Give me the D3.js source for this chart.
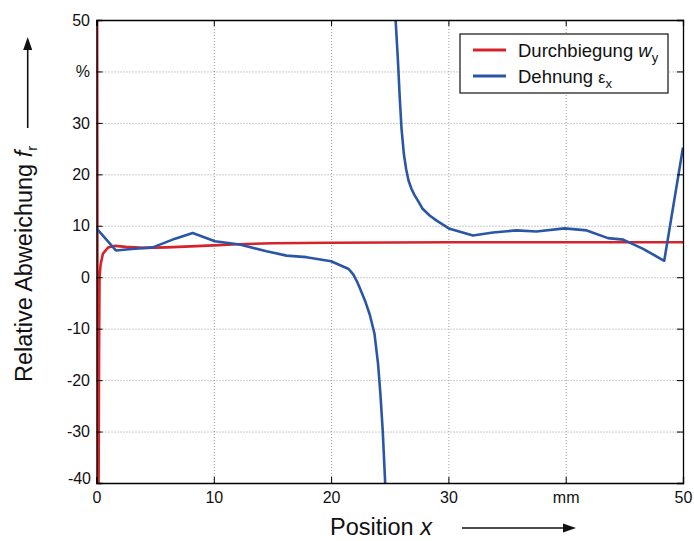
<!DOCTYPE html>
<html>
<head>
<meta charset="utf-8">
<script src="https://cdn.jsdelivr.net/npm/d3@7"></script>
<style>
  body { margin: 0; background: #fff; }
  svg { font-family: "Liberation Sans", Arial, Helvetica, sans-serif; }
  .grid line { stroke: #9a9a9a; stroke-dasharray: 1,2; }
  .grid path { display: none; }
</style>
</head>
<body>
<svg width="694" height="541"></svg>
<script>
WIDTH = 694;
HEIGHT = 541;

const xTicks = [0, 10, 20, 30, 40, 50];
const xTickLabels = ['0', '10', '20', '30', 'mm', '50'];
const yTicks = [-40, -30, -20, -10, 0, 10, 20, 30, 40, 50];
const yTickLabels = ['-40', '-30', '-20', '-10', '0', '10', '20', '30', '%', '50'];

// Durchbiegung w_y
const durchbiegung = [
  [0.04, 80], [0.12, -80], [0.18, -40], [0.21, -20], [0.23, -10], [0.26, 0],
  [0.35, 2.5], [0.55, 4.6], [1.0, 5.8], [1.6, 6.1], [2.5, 5.9], [4, 5.7],
  [6, 5.8], [8, 6.0], [10, 6.2], [12, 6.4], [15, 6.6], [20, 6.7],
  [25, 6.75], [30, 6.8], [40, 6.8], [50, 6.8],
];

// Dehnung eps_x, two branches on either side of the pole
const dehnungLeft = [
  [0, 9.5], [1.65, 5.2], [3, 5.5], [4.8, 5.8], [6.7, 7.5], [8.2, 8.6],
  [10.1, 7.0], [12.2, 6.35], [14.5, 5.05], [16.2, 4.2], [17.9, 3.9],
  [20, 3.1], [21.5, 1.6], [21.9, 0.5], [22.2, -0.8], [22.5, -2.4],
  [22.9, -4.6], [23.3, -7.3], [23.7, -11], [24.0, -16.8], [24.2, -22.6],
  [24.4, -29.8], [24.6, -39.5], [24.65, -45],
];
const dehnungRight = [
  [25.45, 55], [25.5, 50], [25.7, 42], [25.85, 35], [26.0, 29],
  [26.2, 24], [26.4, 21], [26.6, 18.8], [26.85, 17.2], [27.1, 16.0],
  [27.5, 14.5], [27.8, 13.3], [28.4, 12.0], [29.0, 11.0], [30.1, 9.4],
  [32.1, 8.1], [33.8, 8.7], [35.8, 9.1], [37.5, 8.9], [39.9, 9.5],
  [41.8, 9.1], [43.6, 7.6], [44.9, 7.3], [46.6, 5.5], [48.4, 3.2],
  [50, 25.2],
];

const RED = '#d4242b';
const BLUE = '#2b56a6';

function drawChart() {
  const margin = { top: 20, right: 11, bottom: 58, left: 96.5 };
  const width = WIDTH - margin.left - margin.right;
  const height = HEIGHT - margin.top - margin.bottom;

  const x = d3.scaleLinear().domain([0, 50]).range([0, width]);
  const y = d3.scaleLinear().domain([-40, 50]).range([height, 0]);

  const svg = d3.select('svg');
  const g = svg.append('g')
    .attr('transform', `translate(${margin.left}, ${margin.top})`);

  // grid
  g.append('g')
    .attr('class', 'grid')
    .attr('transform', `translate(0, ${height})`)
    .call(d3.axisBottom(x).tickValues(xTicks.slice(1, -1)).tickSize(-height).tickFormat(''));
  g.append('g')
    .attr('class', 'grid')
    .call(d3.axisLeft(y).tickValues(yTicks.slice(1, -1)).tickSize(-width).tickFormat(''));

  g.append('defs').append('clipPath')
    .attr('id', 'plot-clip')
    .append('rect')
    .attr('width', width)
    .attr('height', height);

  const line = d3.line()
    .x((d) => x(d[0]))
    .y((d) => y(d[1]));

  const lines = g.append('g').attr('clip-path', 'url(#plot-clip)');
  lines.append('path')
    .datum(durchbiegung)
    .attr('fill', 'none')
    .attr('stroke', RED)
    .attr('stroke-width', 2.6)
    .attr('d', line);
  [dehnungLeft, dehnungRight].forEach((branch) => {
    lines.append('path')
      .datum(branch)
      .attr('fill', 'none')
      .attr('stroke', BLUE)
      .attr('stroke-width', 2.6)
      .attr('stroke-linejoin', 'round')
      .attr('d', line);
  });

  // axes with inward ticks
  const xAxis = g.append('g')
    .attr('transform', `translate(0, ${height})`)
    .call(d3.axisBottom(x).tickValues(xTicks).tickSize(-6).tickPadding(8.5)
      .tickFormat((d, i) => xTickLabels[i]));
  const yAxis = g.append('g')
    .call(d3.axisLeft(y).tickValues(yTicks).tickSize(-6).tickPadding(6.5)
      .tickFormat((d, i) => yTickLabels[i]));
  g.append('g')
    .call(d3.axisTop(x).tickValues(xTicks).tickSize(-6).tickFormat(''));
  g.append('g')
    .attr('transform', `translate(${width}, 0)`)
    .call(d3.axisRight(y).tickValues(yTicks).tickSize(-6).tickFormat(''));

  g.selectAll('.domain').attr('stroke', '#000').attr('stroke-width', 1.3);
  g.selectAll('.tick line').filter(function () {
    return !this.parentNode.parentNode.classList.contains('grid');
  }).attr('stroke', '#000');

  [xAxis, yAxis].forEach((ax) => {
    ax.selectAll('text')
      .attr('font-size', 16)
      .attr('font-family', '"Liberation Sans", Arial, sans-serif')
      .attr('fill', '#111');
  });
  // bottom label sits a little higher, as in the original
  yAxis.selectAll('.tick text').filter((d) => d === -40)
    .attr('dx', 1)
    .attr('dy', '0.0em');

  // axis titles
  const xt = svg.append('text')
    .attr('x', 330)
    .attr('y', 535)
    .attr('font-size', 23.5)
    .attr('fill', '#111');
  xt.append('tspan').text('Position ');
  xt.append('tspan').attr('font-style', 'italic').text('x');

  svg.append('line')
    .attr('x1', 462).attr('x2', 568)
    .attr('y1', 528).attr('y2', 528)
    .attr('stroke', '#111').attr('stroke-width', 1.6);
  svg.append('path')
    .attr('d', 'M576,528 L563,523.5 L563,532.5 Z')
    .attr('fill', '#111');

  const yt = svg.append('text')
    .attr('transform', 'translate(32, 382) rotate(-90)')
    .attr('font-size', 23.5)
    .attr('fill', '#111');
  yt.append('tspan').text('Relative Abweichung ');
  yt.append('tspan').attr('font-style', 'italic').text('f');
  yt.append('tspan').attr('font-size', 15).attr('dy', 5).text('r');

  svg.append('line')
    .attr('x1', 27.7).attr('x2', 27.7)
    .attr('y1', 128).attr('y2', 46)
    .attr('stroke', '#111').attr('stroke-width', 1.6);
  svg.append('path')
    .attr('d', 'M27.7,37 L23.2,50 L32.2,50 Z')
    .attr('fill', '#111');

  // legend
  const legend = svg.append('g');
  legend.append('rect')
    .attr('x', 460).attr('y', 34)
    .attr('width', 208).attr('height', 59)
    .attr('fill', '#fff')
    .attr('stroke', '#111')
    .attr('stroke-width', 1.2);
  const entries = [
    { color: RED, y: 50, main: 'Durchbiegung ', sym: 'w', symItalic: true, sub: 'y' },
    { color: BLUE, y: 76, main: 'Dehnung ', sym: 'ε', symItalic: false, sub: 'x' },
  ];
  entries.forEach((e) => {
    legend.append('line')
      .attr('x1', 473).attr('x2', 506)
      .attr('y1', e.y).attr('y2', e.y)
      .attr('stroke', e.color)
      .attr('stroke-width', 2.8);
    const t = legend.append('text')
      .attr('x', 518)
      .attr('y', e.y + 7)
      .attr('font-size', 18.5)
      .attr('fill', '#111');
    t.append('tspan').text(e.main);
    t.append('tspan')
      .attr('font-style', e.symItalic ? 'italic' : 'normal')
      .attr('font-size', e.symItalic ? 18.5 : 16)
      .text(e.sym);
    t.append('tspan').attr('font-size', 13).attr('dy', 5).text(e.sub);
  });
}

drawChart();
</script>
</body>
</html>
